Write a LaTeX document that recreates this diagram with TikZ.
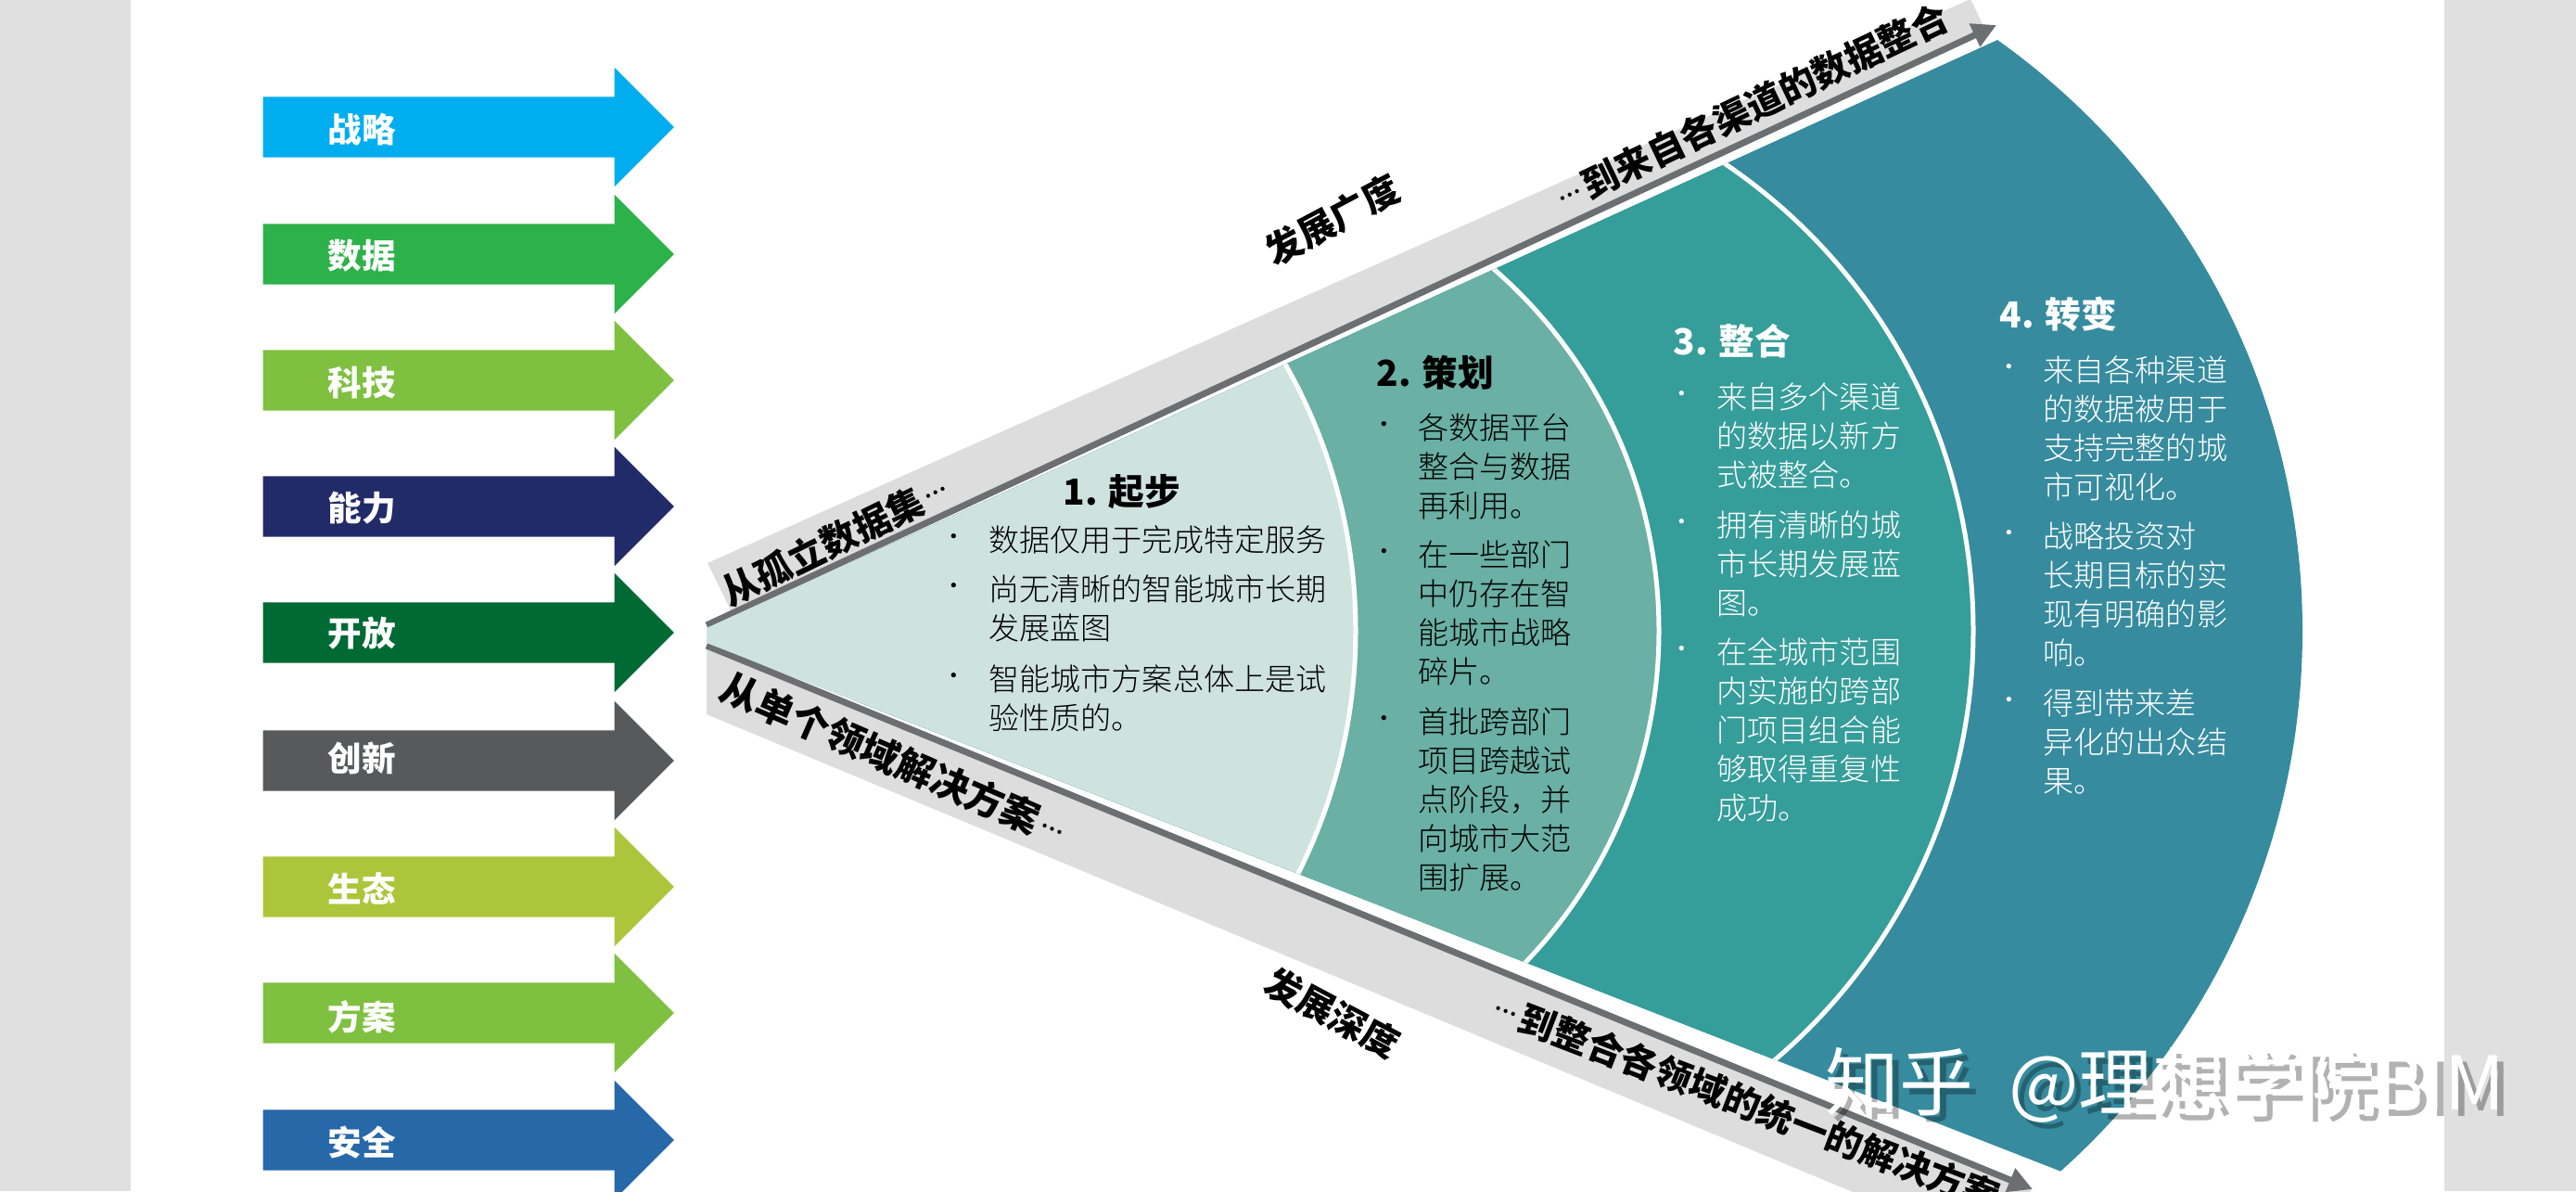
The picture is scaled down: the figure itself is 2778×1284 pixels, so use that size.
\documentclass[tikz,border=0pt]{standalone}
\usepackage{fontspec}
\setmainfont{Noto Sans CJK SC}
\newfontfamily\lightcjk{Noto Sans CJK SC Light}
\usetikzlibrary{arrows.meta, shapes.arrows}

\definecolor{sidegray}{HTML}{E0E0E0}
\definecolor{bandgray}{HTML}{DEDDDD}
\definecolor{linegray}{HTML}{6D6E71}
\definecolor{fanA}{HTML}{CFE3DE}
\definecolor{fanB}{HTML}{6AB0A4}
\definecolor{fanC}{HTML}{359D9A}
\definecolor{fanD}{HTML}{368B9E}

\newcommand{\banddots}{\makebox[0.85em]{\raisebox{0.3em}{\fontsize{6.5pt}{7pt}\selectfont\lightcjk …}}}

\tikzset{
  armshape/.style={single arrow, draw=none, anchor=tail, inner sep=0pt, text width=0pt, text height=0.64cm, text depth=0pt, minimum height=4.43cm, minimum width=1.27cm, single arrow head extend=0.315cm, single arrow tip angle=90},
  armtext/.style={anchor=center, inner sep=0pt, text=white, font=\fontsize{10.4pt}{12pt}\selectfont\bfseries},
  stagehead/.style={anchor=west, inner sep=0pt, font=\fontsize{11pt}{13pt}\selectfont\bfseries},
  stagebody/.style={anchor=north west, inner sep=0pt, align=left, font=\fontsize{9.4pt}{11.95pt}\selectfont\lightcjk},
  stagedot/.style={anchor=center, inner sep=0pt, font=\fontsize{7pt}{8pt}\selectfont},
  bandtext/.style={inner sep=0pt, text=black, font=\fontsize{11.2pt}{13pt}\selectfont\bfseries},
  growline/.style={draw=linegray, line width=0.07cm, -{Triangle[length=0.26cm, width=0.26cm]}},
  markshade/.style={anchor=west, inner sep=0pt, text=black, text opacity=0.3, font=\fontsize{22.7pt}{26pt}\selectfont},
  marktext/.style={anchor=west, inner sep=0pt, text=white, font=\fontsize{22.7pt}{26pt}\selectfont}
}

\begin{document}
\begin{tikzpicture}[x=0.01cm, y=-0.01cm]

\useasboundingbox (0,0) rectangle (2778,1284);
\clip (0,0) rectangle (2778,1284);

\fill[white] (0,0) rectangle (2778,1284);
\fill[sidegray] (0,0) rectangle (141,1284);
\fill[sidegray] (2636,0) rectangle (2778,1284);

\node[armshape, fill={rgb,255:red,0;green,173;blue,239}] (A1) at (283,137) {};
\node[armshape, fill={rgb,255:red,45;green,177;blue,74}] (A2) at (283,274) {};
\node[armshape, fill={rgb,255:red,127;green,192;blue,65}] (A3) at (283,410) {};
\node[armshape, fill={rgb,255:red,33;green,43;blue,104}] (A4) at (283,546) {};
\node[armshape, fill={rgb,255:red,0;green,106;blue,53}] (A5) at (283,682) {};
\node[armshape, fill={rgb,255:red,88;green,89;blue,91}] (A6) at (283,820) {};
\node[armshape, fill={rgb,255:red,173;green,197;blue,58}] (A7) at (283,956) {};
\node[armshape, fill={rgb,255:red,127;green,192;blue,65}] (A8) at (283,1092) {};
\node[armshape, fill={rgb,255:red,39;green,104;blue,169}] (A9) at (283,1229) {};

\node[armtext] (T1) at (390,140) {战略};
\node[armtext] (T2) at (390,276) {数据};
\node[armtext] (T3) at (390,413) {科技};
\node[armtext] (T4) at (390,548) {能力};
\node[armtext] (T5) at (390,683) {开放};
\node[armtext] (T6) at (390,817) {创新};
\node[armtext] (T7) at (390,958) {生态};
\node[armtext] (T8) at (390,1096) {方案};
\node[armtext] (T9) at (390,1232) {安全};

\fill[bandgray] (763,607) -- (2125,-1) -- (2140,30) -- (789,660) -- cycle;
\fill[bandgray] (762,697) -- (2190,1280) -- (2190,1290) -- (2010,1290) -- (762,770) -- cycle;

\coordinate (breadthA) at (762,674);
\coordinate (breadthB) at (2153,27);
\coordinate (depthA) at (762,696);
\coordinate (depthB) at (2192,1282);

\draw[growline] (breadthA) -- (breadthB);
\draw[growline] (depthA) -- (depthB);

\begin{scope}
\clip (762,677) -- (2600,-160) -- (2600,1410) -- (762,693) -- cycle;
\fill[fanD] (1702,680) circle[radius=781];
\filldraw[fill=fanC, draw=white, line width=0.05cm] (1521,680) circle[radius=607];
\filldraw[fill=fanB, draw=white, line width=0.05cm] (1273,680) circle[radius=516];
\filldraw[fill=fanA, draw=white, line width=0.05cm] (881,680) circle[radius=581];
\end{scope}

\node[bandtext, rotate=26] (N1) at (902,582) {从孤立数据集\banddots};
\node[bandtext, rotate=28] (N2) at (1437,237) {发展广度};
\node[bandtext, rotate=25.5] (N3) at (1888,116) {\banddots 到来自各渠道的数据整合};
\node[bandtext, rotate=-23.5, font=\fontsize{11.7pt}{13pt}\selectfont\bfseries] (N4) at (966,819) {从单个领域解决方案\banddots};
\node[bandtext, rotate=-28] (N5) at (1437,1092) {发展深度};
\node[bandtext, rotate=-21, anchor=west] (N6) at (1608,1083) {\banddots 到整合各领域的统一的解决方案};

\node[stagehead] (H1) at (1146,530) {1. 起步};
\node[stagedot] (D11) at (1029,582) {•};
\node[stagebody] (B11) at (1066,566) {数据仅用于完成特定服务};
\node[stagedot] (D12) at (1029,635) {•};
\node[stagebody] (B12) at (1066,619) {尚无清晰的智能城市长期\\发展蓝图};
\node[stagedot] (D13) at (1029,732) {•};
\node[stagebody] (B13) at (1066,716) {智能城市方案总体上是试\\验性质的。};

\node[stagehead] (H2) at (1484,402) {2. 策划};
\node[stagedot] (D21) at (1493,461) {•};
\node[stagebody] (B21) at (1529,445) {各数据平台\\整合与数据\\再利用。};
\node[stagedot] (D22) at (1493,598) {•};
\node[stagebody] (B22) at (1529,582) {在一些部门\\中仍存在智\\能城市战略\\碎片。};
\node[stagedot] (D23) at (1493,778) {•};
\node[stagebody] (B23) at (1529,762) {首批跨部门\\项目跨越试\\点阶段，并\\向城市大范\\围扩展。};

\node[stagehead, text=white] (H3) at (1804,368) {3. 整合};
\node[stagedot, text=white] (D31) at (1814,428) {•};
\node[stagebody, text=white] (B31) at (1851,412) {来自多个渠道\\的数据以新方\\式被整合。};
\node[stagedot, text=white] (D32) at (1814,566) {•};
\node[stagebody, text=white] (B32) at (1851,550) {拥有清晰的城\\市长期发展蓝\\图。};
\node[stagedot, text=white] (D33) at (1814,703) {•};
\node[stagebody, text=white] (B33) at (1851,687) {在全城市范围\\内实施的跨部\\门项目组合能\\够取得重复性\\成功。};

\node[stagehead, text=white] (H4) at (2156,339) {4. 转变};
\node[stagedot, text=white] (D41) at (2167,399) {•};
\node[stagebody, text=white] (B41) at (2203,383) {来自各种渠道\\的数据被用于\\支持完整的城\\市可视化。};
\node[stagedot, text=white] (D42) at (2167,578) {•};
\node[stagebody, text=white] (B42) at (2203,562) {战略投资对\\长期目标的实\\现有明确的影\\响。};
\node[stagedot, text=white] (D43) at (2167,758) {•};
\node[stagebody, text=white] (B43) at (2203,742) {得到带来差\\异化的出众结\\果。};

\node[markshade] (M0) at (1975,1176) {知乎\hspace{0.2cm} @理想学院BIM};
\node[marktext] (M1) at (1968,1169) {知乎\hspace{0.2cm} @理想学院BIM};

\end{tikzpicture}
\end{document}
